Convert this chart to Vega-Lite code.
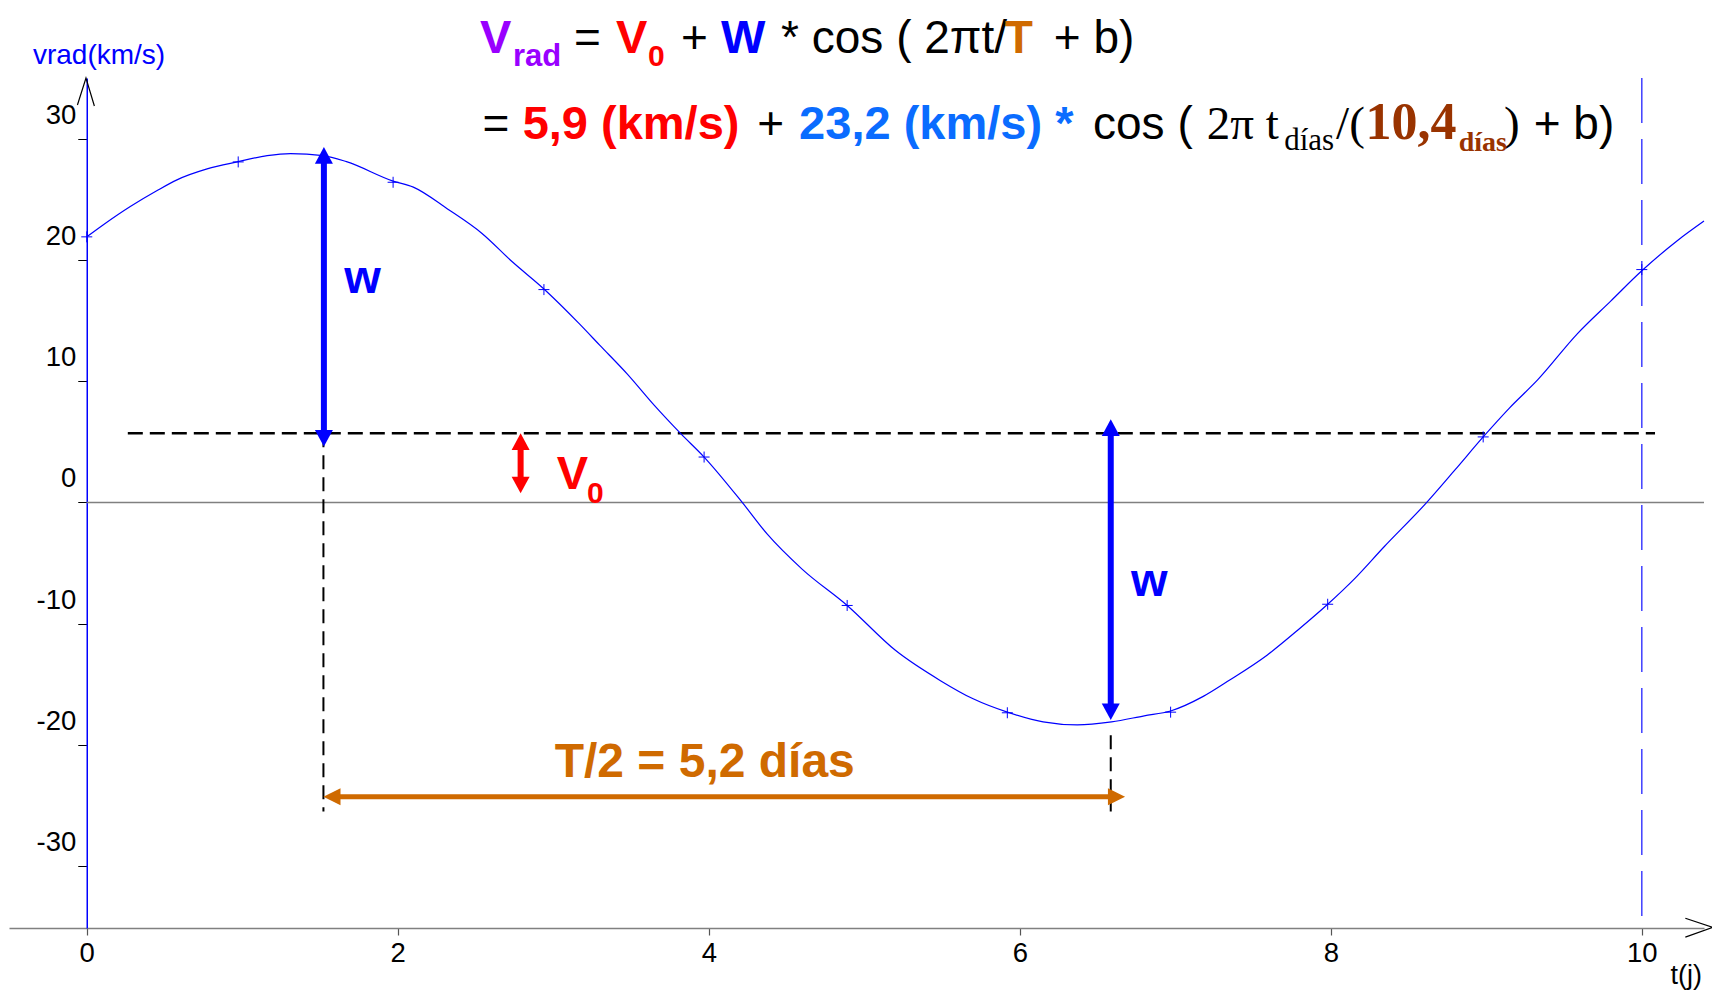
{
 "$schema": "https://vega.github.io/schema/vega-lite/v6.json",
 "width": 1695,
 "height": 850,
 "autosize": {"type": "none"},
 "padding": {"left": 9, "top": 78, "right": 8, "bottom": 64},
 "background": "#ffffff",
 "config": {
  "view": {"stroke": null},
  "axisX": {"tickCount": 6, "grid": false, "domainColor": "#808080", "domainWidth": 1.5, "tickColor": "#555555", "tickSize": 7, "tickWidth": 1.2,
   "labelFontSize": 27.5, "labelFont": "Liberation Sans", "labelColor": "#000000", "labelPadding": 4, "labelFlush": false, "labelOverlap": false},
  "axisY": {"tickCount": 7, "offset": -77.75, "grid": false, "domainColor": "#0000FF", "domainWidth": 1.5, "tickColor": "#000000", "tickSize": 9, "tickWidth": 1,
   "labelFontSize": 27.5, "labelFont": "Liberation Sans", "labelColor": "#000000", "labelPadding": 2, "labelOffset": -23.5, "labelFlush": false, "labelOverlap": false, "labelBound": false,
   "labelExpr": "replace(datum.label, '−', '-')"}
 },
 "datasets": {
  "curve": [
   {"t": 0, "v": 21.9}, {"t": 0.107, "v": 22.9}, {"t": 0.28, "v": 24.4}, {"t": 0.45, "v": 25.7},
   {"t": 0.58, "v": 26.6}, {"t": 0.774, "v": 27.5}, {"t": 0.974, "v": 28.1}, {"t": 1.16, "v": 28.6},
   {"t": 1.31, "v": 28.77}, {"t": 1.52, "v": 28.6}, {"t": 1.67, "v": 28.1}, {"t": 1.97, "v": 26.5},
   {"t": 2.1, "v": 26.0}, {"t": 2.32, "v": 24.2}, {"t": 2.54, "v": 22.2}, {"t": 2.74, "v": 19.8},
   {"t": 2.94, "v": 17.6}, {"t": 3.17, "v": 14.7}, {"t": 3.3, "v": 12.95}, {"t": 3.475, "v": 10.6},
   {"t": 3.65, "v": 8.0}, {"t": 3.82, "v": 5.67}, {"t": 3.97, "v": 3.74}, {"t": 4.215, "v": 0},
   {"t": 4.375, "v": -2.6}, {"t": 4.6, "v": -5.5}, {"t": 4.89, "v": -8.5}, {"t": 5.2, "v": -12.2},
   {"t": 5.49, "v": -14.7}, {"t": 5.7, "v": -16.2}, {"t": 5.92, "v": -17.3}, {"t": 6.15, "v": -18.1},
   {"t": 6.37, "v": -18.35}, {"t": 6.59, "v": -18.1}, {"t": 6.8, "v": -17.6}, {"t": 6.97, "v": -17.2},
   {"t": 7.18, "v": -16.0}, {"t": 7.35, "v": -14.65}, {"t": 7.59, "v": -12.6}, {"t": 7.8, "v": -10.4},
   {"t": 7.98, "v": -8.4}, {"t": 8.16, "v": -6.2}, {"t": 8.34, "v": -3.7}, {"t": 8.61, "v": -0.1},
   {"t": 8.8, "v": 2.7}, {"t": 8.98, "v": 5.4}, {"t": 9.15, "v": 7.8}, {"t": 9.33, "v": 10.1},
   {"t": 9.585, "v": 13.9}, {"t": 9.8, "v": 16.6}, {"t": 10.0, "v": 19.1}, {"t": 10.23, "v": 21.6},
   {"t": 10.4, "v": 23.2}
  ],
  "obs": [
   {"t": 0, "v": 21.9}, {"t": 0.974, "v": 28.08}, {"t": 1.97, "v": 26.4}, {"t": 2.94, "v": 17.55},
   {"t": 3.97, "v": 3.74}, {"t": 4.89, "v": -8.5}, {"t": 5.92, "v": -17.35}, {"t": 6.97, "v": -17.3},
   {"t": 7.98, "v": -8.4}, {"t": 8.98, "v": 5.4}, {"t": 10.0, "v": 19.2}
  ],
  "zero": [{"t": 0, "t2": 10.4, "v": 0}],
  "vdash": [{"t": 10, "v": 35, "v2": -35.1}],
  "hdash": [{"t": 0.264, "t2": 10.085, "v": 5.7}],
  "vlines": [{"t": 1.522, "v": 5.7, "v2": -25.5}, {"t": 6.585, "v": -19.2, "v2": -25.5}],
  "shaftsV": [
   {"arrow": "W", "t": 1.525, "v": 28.6, "v2": 5.3},
   {"arrow": "W", "t": 6.585, "v": 6.15, "v2": -17.25},
   {"arrow": "V0", "t": 2.79, "v": 5.04, "v2": 1.41}
  ],
  "shaftsH": [{"arrow": "T", "t": 1.58, "t2": 6.62, "v": -24.27}],
  "heads": [
   {"arrow": "W", "dir": "up", "t": 1.525, "v": 29.3},
   {"arrow": "W", "dir": "down", "t": 1.525, "v": 4.6},
   {"arrow": "W", "dir": "up", "t": 6.585, "v": 6.85},
   {"arrow": "W", "dir": "down", "t": 6.585, "v": -17.95},
   {"arrow": "V0", "dir": "up", "t": 2.79, "v": 5.7},
   {"arrow": "V0", "dir": "down", "t": 2.79, "v": 0.75},
   {"arrow": "T", "dir": "left", "t": 1.522, "v": -24.27},
   {"arrow": "T", "dir": "right", "t": 6.677, "v": -24.27}
  ],
  "axisArrows": [
   {"g": "y", "i": 0, "t": -0.06, "v": 32.77}, {"g": "y", "i": 1, "t": -0.005, "v": 35.0}, {"g": "y", "i": 2, "t": 0.049, "v": 32.69},
   {"g": "x", "i": 0, "t": 10.28, "v": -34.3}, {"g": "x", "i": 1, "t": 10.455, "v": -35.05}, {"g": "x", "i": 2, "t": 10.28, "v": -35.85}
  ],
  "txtSansReg": [
   {"t": 3.133, "v": 37.1, "s": "="}, {"t": 3.822, "v": 37.1, "s": "+"},
   {"t": 4.465, "v": 37.1, "s": "* cos ( 2πt/"}, {"t": 6.219, "v": 37.1, "s": "+ b)"},
   {"t": 2.545, "v": 29.97, "s": "="}, {"t": 4.311, "v": 29.97, "s": "+"},
   {"t": 6.471, "v": 29.97, "s": "cos ("}, {"t": 9.305, "v": 29.97, "s": "+ b)"}
  ],
  "txtPurple": [{"t": 2.529, "v": 37.1, "s": "V"}],
  "txtPurpleSub": [{"t": 2.741, "v": 36.03, "s": "rad"}],
  "txtRed": [{"t": 3.404, "v": 37.1, "s": "V"}, {"t": 2.803, "v": 29.97, "s": "5,9 (km/s)"}, {"t": 3.022, "v": 1.08, "s": "V"}],
  "txtRedSub": [{"t": 3.609, "v": 36.03, "s": "0"}, {"t": 3.217, "v": -0.05, "s": "0"}],
  "txtBlue": [{"t": 4.079, "v": 37.1, "s": "W"}, {"t": 1.656, "v": 17.25, "s": "w"}, {"t": 6.716, "v": -7.7, "s": "w"}],
  "txtLightBlue": [{"t": 4.581, "v": 29.97, "s": "23,2 (km/s) *"}],
  "txtOrange": [{"t": 5.903, "v": 37.1, "s": "T"}],
  "txtHalfPeriod": [{"t": 3.974, "v": -22.67, "s": "T/2 = 5,2 días"}],
  "txtSerif": [{"t": 7.202, "v": 29.97, "s": "2π t"}, {"t": 8.034, "v": 29.97, "s": "/("}, {"t": 9.114, "v": 29.97, "s": ")"}],
  "txtSerifSub": [{"t": 7.7, "v": 29.06, "s": "días"}],
  "txtBrown": [{"t": 8.224, "v": 29.97, "s": "10,4"}],
  "txtBrownSub": [{"t": 8.823, "v": 29.0, "s": "días"}],
  "txtYTitle": [{"t": -0.346, "v": 36.16, "s": "vrad(km/s)"}],
  "txtXTitle": [{"t": 10.185, "v": -39.72, "s": "t(j)"}]
 },
 "layer": [
  {
   "data": {"name": "zero"},
   "mark": {"type": "rule", "color": "#808080", "strokeWidth": 1.5},
   "encoding": {
    "x": {"field": "t", "type": "quantitative", "title": null, "scale": {"domain": [-0.5, 10.4], "nice": false, "zero": false}},
    "x2": {"field": "t2", "title": null},
    "y": {"field": "v", "type": "quantitative", "title": null, "scale": {"domain": [-35.1, 35], "nice": false, "zero": false}}
   }
  },
  {
   "data": {"name": "vdash"},
   "mark": {"type": "rule", "color": "#4040FF", "strokeWidth": 1.5, "strokeDash": [45, 16]},
   "encoding": {
    "x": {"field": "t", "type": "quantitative", "title": null},
    "y": {"field": "v", "type": "quantitative", "title": null},
    "y2": {"field": "v2", "title": null}
   }
  },
  {
   "data": {"name": "hdash"},
   "mark": {"type": "rule", "color": "#000000", "strokeWidth": 2.5, "strokeDash": [15, 7]},
   "encoding": {
    "x": {"field": "t", "type": "quantitative", "title": null},
    "x2": {"field": "t2", "title": null},
    "y": {"field": "v", "type": "quantitative", "title": null}
   }
  },
  {
   "data": {"name": "vlines"},
   "mark": {"type": "rule", "color": "#000000", "strokeWidth": 2, "strokeDash": [14, 8]},
   "encoding": {
    "x": {"field": "t", "type": "quantitative", "title": null},
    "y": {"field": "v", "type": "quantitative", "title": null},
    "y2": {"field": "v2", "title": null}
   }
  },
  {
   "data": {"name": "curve"},
   "mark": {"type": "line", "color": "#0000FF", "strokeWidth": 1.2, "interpolate": "monotone"},
   "encoding": {
    "x": {"field": "t", "type": "quantitative", "title": null, "scale": {"domain": [-0.5, 10.4], "nice": false, "zero": false}},
    "y": {"field": "v", "type": "quantitative", "title": null, "scale": {"domain": [-35.1, 35], "nice": false, "zero": false}}
   }
  },
  {
   "data": {"name": "obs"},
   "mark": {"type": "point", "shape": "M-1,0L1,0M0,-1L0,1", "size": 121, "filled": false, "color": "#0000FF", "strokeWidth": 1, "opacity": 1},
   "encoding": {
    "x": {"field": "t", "type": "quantitative", "title": null},
    "y": {"field": "v", "type": "quantitative", "title": null}
   }
  },
  {
   "data": {"name": "shaftsV"},
   "mark": {"type": "rule", "strokeWidth": 6},
   "encoding": {
    "x": {"field": "t", "type": "quantitative", "title": null},
    "y": {"field": "v", "type": "quantitative", "title": null},
    "y2": {"field": "v2", "title": null},
    "color": {"field": "arrow", "type": "nominal", "scale": {"domain": ["W", "V0", "T"], "range": ["#0000FF", "#FF0000", "#CF6A00"]}, "legend": null}
   }
  },
  {
   "data": {"name": "shaftsH"},
   "mark": {"type": "rule", "strokeWidth": 5},
   "encoding": {
    "x": {"field": "t", "type": "quantitative", "title": null},
    "x2": {"field": "t2", "title": null},
    "y": {"field": "v", "type": "quantitative", "title": null},
    "color": {"field": "arrow", "type": "nominal", "legend": null}
   }
  },
  {
   "data": {"name": "heads"},
   "mark": {"type": "point", "filled": true, "opacity": 1, "size": 324, "strokeWidth": 0},
   "encoding": {
    "x": {"field": "t", "type": "quantitative", "title": null},
    "y": {"field": "v", "type": "quantitative", "title": null},
    "shape": {"field": "dir", "type": "nominal", "scale": {"domain": ["up", "down", "left", "right"],
     "range": ["M0,0L1,1.85L-1,1.85Z", "M0,0L1,-1.85L-1,-1.85Z", "M0,0L1.9,-0.95L1.9,0.95Z", "M0,0L-1.9,-0.95L-1.9,0.95Z"]}, "legend": null},
    "color": {"field": "arrow", "type": "nominal", "legend": null}
   }
  },
  {
   "data": {"name": "axisArrows"},
   "mark": {"type": "line", "color": "#000000", "strokeWidth": 1.2},
   "encoding": {
    "x": {"field": "t", "type": "quantitative", "title": null},
    "y": {"field": "v", "type": "quantitative", "title": null},
    "detail": {"field": "g", "type": "nominal"},
    "order": {"field": "i", "type": "quantitative"}
   }
  },
  {
   "data": {"name": "txtSansReg"},
   "mark": {"type": "text", "align": "left", "baseline": "alphabetic", "font": "Liberation Sans", "fontSize": 46, "color": "#000000"},
   "encoding": {"x": {"field": "t", "type": "quantitative", "title": null}, "y": {"field": "v", "type": "quantitative", "title": null}, "text": {"field": "s"}}
  },
  {
   "data": {"name": "txtPurple"},
   "mark": {"type": "text", "align": "left", "baseline": "alphabetic", "font": "Liberation Sans", "fontWeight": "bold", "fontSize": 47, "color": "#9900FF"},
   "encoding": {"x": {"field": "t", "type": "quantitative", "title": null}, "y": {"field": "v", "type": "quantitative", "title": null}, "text": {"field": "s"}}
  },
  {
   "data": {"name": "txtPurpleSub"},
   "mark": {"type": "text", "align": "left", "baseline": "alphabetic", "font": "Liberation Sans", "fontWeight": "bold", "fontSize": 31, "color": "#9900FF"},
   "encoding": {"x": {"field": "t", "type": "quantitative", "title": null}, "y": {"field": "v", "type": "quantitative", "title": null}, "text": {"field": "s"}}
  },
  {
   "data": {"name": "txtRed"},
   "mark": {"type": "text", "align": "left", "baseline": "alphabetic", "font": "Liberation Sans", "fontWeight": "bold", "fontSize": 47, "color": "#FF0000"},
   "encoding": {"x": {"field": "t", "type": "quantitative", "title": null}, "y": {"field": "v", "type": "quantitative", "title": null}, "text": {"field": "s"}}
  },
  {
   "data": {"name": "txtRedSub"},
   "mark": {"type": "text", "align": "left", "baseline": "alphabetic", "font": "Liberation Sans", "fontWeight": "bold", "fontSize": 30, "color": "#FF0000"},
   "encoding": {"x": {"field": "t", "type": "quantitative", "title": null}, "y": {"field": "v", "type": "quantitative", "title": null}, "text": {"field": "s"}}
  },
  {
   "data": {"name": "txtBlue"},
   "mark": {"type": "text", "align": "left", "baseline": "alphabetic", "font": "Liberation Sans", "fontWeight": "bold", "fontSize": 47, "color": "#0000FF"},
   "encoding": {"x": {"field": "t", "type": "quantitative", "title": null}, "y": {"field": "v", "type": "quantitative", "title": null}, "text": {"field": "s"}}
  },
  {
   "data": {"name": "txtLightBlue"},
   "mark": {"type": "text", "align": "left", "baseline": "alphabetic", "font": "Liberation Sans", "fontWeight": "bold", "fontSize": 47, "color": "#0A6CFF"},
   "encoding": {"x": {"field": "t", "type": "quantitative", "title": null}, "y": {"field": "v", "type": "quantitative", "title": null}, "text": {"field": "s"}}
  },
  {
   "data": {"name": "txtOrange"},
   "mark": {"type": "text", "align": "left", "baseline": "alphabetic", "font": "Liberation Sans", "fontWeight": "bold", "fontSize": 46, "color": "#CF6A00"},
   "encoding": {"x": {"field": "t", "type": "quantitative", "title": null}, "y": {"field": "v", "type": "quantitative", "title": null}, "text": {"field": "s"}}
  },
  {
   "data": {"name": "txtHalfPeriod"},
   "mark": {"type": "text", "align": "center", "baseline": "alphabetic", "font": "Liberation Sans", "fontWeight": "bold", "fontSize": 48, "color": "#CF6A00"},
   "encoding": {"x": {"field": "t", "type": "quantitative", "title": null}, "y": {"field": "v", "type": "quantitative", "title": null}, "text": {"field": "s"}}
  },
  {
   "data": {"name": "txtSerif"},
   "mark": {"type": "text", "align": "left", "baseline": "alphabetic", "font": "Liberation Serif", "fontSize": 47, "color": "#000000"},
   "encoding": {"x": {"field": "t", "type": "quantitative", "title": null}, "y": {"field": "v", "type": "quantitative", "title": null}, "text": {"field": "s"}}
  },
  {
   "data": {"name": "txtSerifSub"},
   "mark": {"type": "text", "align": "left", "baseline": "alphabetic", "font": "Liberation Serif", "fontSize": 31, "color": "#000000"},
   "encoding": {"x": {"field": "t", "type": "quantitative", "title": null}, "y": {"field": "v", "type": "quantitative", "title": null}, "text": {"field": "s"}}
  },
  {
   "data": {"name": "txtBrown"},
   "mark": {"type": "text", "align": "left", "baseline": "alphabetic", "font": "Liberation Serif", "fontWeight": "bold", "fontSize": 52, "color": "#993300"},
   "encoding": {"x": {"field": "t", "type": "quantitative", "title": null}, "y": {"field": "v", "type": "quantitative", "title": null}, "text": {"field": "s"}}
  },
  {
   "data": {"name": "txtBrownSub"},
   "mark": {"type": "text", "align": "left", "baseline": "alphabetic", "font": "Liberation Serif", "fontWeight": "bold", "fontSize": 28, "color": "#993300"},
   "encoding": {"x": {"field": "t", "type": "quantitative", "title": null}, "y": {"field": "v", "type": "quantitative", "title": null}, "text": {"field": "s"}}
  },
  {
   "data": {"name": "txtYTitle"},
   "mark": {"type": "text", "align": "left", "baseline": "alphabetic", "font": "Liberation Sans", "fontSize": 28, "color": "#0000FF"},
   "encoding": {"x": {"field": "t", "type": "quantitative", "title": null}, "y": {"field": "v", "type": "quantitative", "title": null}, "text": {"field": "s"}}
  },
  {
   "data": {"name": "txtXTitle"},
   "mark": {"type": "text", "align": "left", "baseline": "alphabetic", "font": "Liberation Sans", "fontSize": 27, "color": "#000000"},
   "encoding": {"x": {"field": "t", "type": "quantitative", "title": null}, "y": {"field": "v", "type": "quantitative", "title": null}, "text": {"field": "s"}}
  }
 ]
}
